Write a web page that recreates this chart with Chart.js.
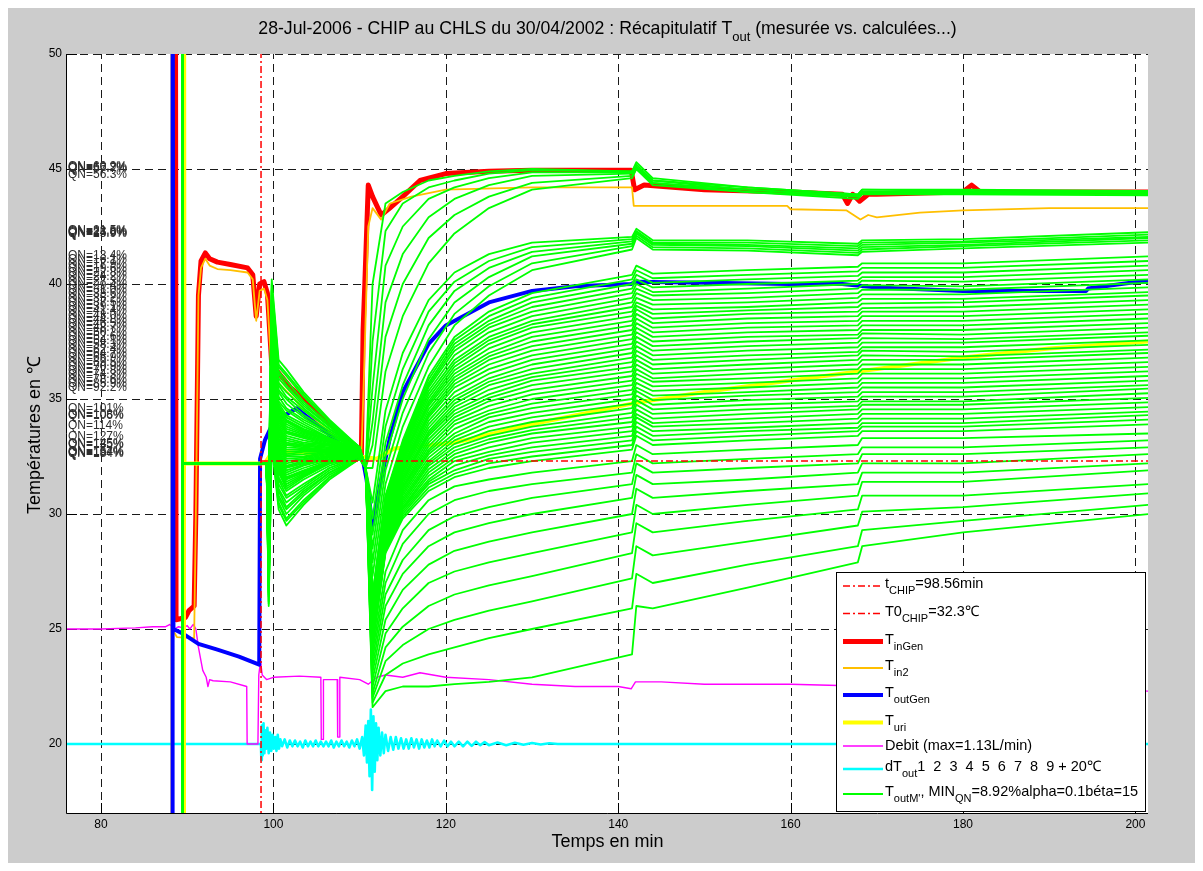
<!DOCTYPE html>
<html><head><meta charset="utf-8">
<script src="https://cdn.jsdelivr.net/npm/chart.js@4.4.0/dist/chart.umd.min.js"></script>
<style>html,body{margin:0;padding:0;background:#fff;overflow:hidden}canvas{display:block}</style>
</head><body>
<canvas id="c" width="1203" height="871"></canvas>
<script>
// ---------------- DATA ----------------
const xTicks = [80, 100, 120, 140, 160, 180, 200];
const yTicks = [20, 25, 30, 35, 40, 45, 50];
const xMin = 76.05, xMax = 201.46, yMin = 17, yMax = 50;

const tChip = 98.56;
const t0Chip = 32.3;

const tInGenX = [88.62, 88.7, 89.8, 90.2, 90.8, 91.0, 91.3, 91.6, 92.1, 92.6, 93.5, 95, 97.0, 97.6, 98.0, 98.4, 98.9, 99.3, 99.8, 102, 105, 108, 110.2, 110.4, 110.6, 111.0, 111.5, 112.5, 113.5, 115, 117, 120, 125, 130, 141.5, 141.9, 143, 150, 160, 166, 166.6, 167.2, 168, 169, 170, 180, 181, 182, 201.5];
const tInGenY = [60, 25.4, 25.5, 25.8, 26.0, 30, 39.5, 41.0, 41.35, 41.1, 40.95, 40.85, 40.7, 40.4, 38.6, 40.0, 40.1, 39.6, 36.5, 35.5, 34.5, 33.4, 32.6, 38, 40, 44.3, 43.8, 43.0, 43.3, 43.8, 44.5, 44.8, 44.9, 44.95, 44.95, 44.1, 44.3, 44.1, 44.0, 43.9, 43.5, 43.9, 43.6, 43.9, 43.9, 44.0, 44.3, 44.0, 44.0];

const tIn2X = [88.12, 88.17, 88.25, 88.8, 90.8, 91.0, 91.3, 91.6, 92.1, 92.6, 93.5, 95, 97.0, 97.6, 98.0, 98.4, 98.9, 99.3, 99.8, 105, 110.2, 110.5, 111.0, 111.5, 112.5, 113.5, 116, 120, 130, 141.6, 141.8, 150, 159.6, 160, 166.5, 168.1, 169, 170, 175, 180, 190, 201.5];
const tIn2Y = [10, 60, 25.0, 24.65, 24.6, 30, 39.5, 40.7, 41.1, 40.8, 40.65, 40.6, 40.5, 40.2, 38.4, 39.7, 39.8, 39.3, 36, 34, 32.6, 36, 42.5, 43.3, 42.8, 43.5, 43.8, 44.1, 44.2, 44.2, 43.4, 43.4, 43.4, 43.25, 43.2, 42.8, 43.0, 42.9, 43.1, 43.2, 43.3, 43.3];

const tOutGenX = [88.25, 88.3, 88.4, 89.5, 91.3, 93.5, 96, 98.35, 98.45, 99.0, 100.0, 102.7, 106, 109.7, 110.3, 110.8, 111.5, 112.5, 113.5, 115, 118, 120, 125, 130, 135, 141.5, 142, 150, 160, 166, 170, 180, 194.3, 194.5, 200.3, 201.5];
const tOutGenY = [10, 60, 25.0, 24.8, 24.35, 24.1, 23.8, 23.45, 32.4, 33.2, 34.0, 34.6, 33.6, 32.4, 32.5, 31.5, 29.5, 31.5, 33.3, 35.3, 37.4, 38.2, 39.2, 39.7, 39.9, 40.0, 40.1, 40.05, 40.0, 40.0, 39.85, 39.7, 39.7, 39.8, 40.1, 40.1];

const tUriX = [89.55, 89.62, 89.68, 99.0, 99.5, 101.5, 105, 110, 112, 114, 121, 130, 141.6, 150, 160, 170, 180, 190, 201.5];
const tUriY = [10, 60, 32.2, 32.2, 32.5, 32.7, 32.6, 32.5, 32.4, 32.85, 33.1, 33.9, 34.8, 35.3, 35.8, 36.3, 36.8, 37.2, 37.5];

const debitX = [76, 80, 84, 86, 87.5, 88, 88.5, 89, 89.5, 90, 90.3, 90.7, 91.0, 91.3, 91.8, 92.2, 92.4, 92.6, 93, 95, 96.9, 96.95, 98.2, 98.3, 98.5, 98.7, 99.2, 100, 103, 105.5, 105.55, 105.75, 105.8, 107.4, 107.45, 107.65, 107.7, 110, 111, 112, 113, 115, 117, 120, 125, 130, 135, 140, 141.5, 142, 145, 150, 160, 170, 180, 190, 201.5];
const debitY = [25.0, 25.0, 25.05, 25.1, 25.1, 25.2, 25.0, 25.1, 25.05, 25.15, 25.0, 25.2, 25.0, 24.2, 23.2, 22.9, 22.5, 22.8, 22.75, 22.7, 22.5, 20.0, 20.0, 23.0, 23.6, 23.0, 22.8, 22.9, 22.95, 22.9, 20.2, 20.2, 22.8, 22.8, 20.3, 20.3, 22.9, 22.8, 22.6, 22.9, 23.0, 22.9, 23.1, 22.9, 22.8, 22.6, 22.5, 22.5, 22.4, 22.7, 22.7, 22.6, 22.6, 22.5, 22.5, 22.4, 22.3];

const dToutX = [76, 98.55, 98.6, 98.65, 98.75, 98.85, 98.95, 99.05, 99.15, 99.3, 99.45, 99.6, 99.75, 99.9, 100.05, 100.2, 100.35, 100.5, 100.65, 100.8, 101.0, 101.3, 101.6, 101.9, 102.2, 102.5, 102.8, 103.1, 103.4, 103.7, 104.0, 104.3, 104.6, 104.9, 105.2, 105.5, 105.8, 106.1, 106.4, 106.7, 107.0, 107.3, 107.6, 107.9, 108.2, 108.5, 108.8, 109.1, 109.4, 109.7, 110.0, 110.3, 110.5, 110.7, 110.85, 111.0, 111.15, 111.3, 111.45, 111.6, 111.75, 111.9, 112.05, 112.2, 112.4, 112.6, 112.8, 113.0, 113.3, 113.6, 113.9, 114.2, 114.5, 114.8, 115.1, 115.4, 115.7, 116.0, 116.3, 116.6, 116.9, 117.2, 117.5, 117.8, 118.1, 118.4, 118.7, 119.0, 119.4, 119.8, 120.2, 120.6, 121.0, 121.5, 122.0, 122.5, 123.0, 123.5, 124.0, 124.5, 125.0, 126, 127, 128, 129, 130, 131, 132, 133, 201.5];
const dToutY = [20.0, 20.0, 19.3, 20.8, 19.5, 20.9, 19.6, 20.6, 19.8, 20.7, 19.6, 20.5, 19.7, 20.4, 19.8, 20.3, 19.7, 20.4, 19.8, 20.2, 19.9, 20.2, 19.85, 20.15, 19.9, 20.15, 19.9, 20.1, 19.85, 20.15, 19.9, 20.1, 19.9, 20.15, 19.9, 20.1, 19.9, 20.1, 19.9, 20.15, 19.85, 20.1, 19.9, 20.15, 19.9, 20.1, 19.85, 20.15, 19.9, 20.2, 19.8, 20.3, 19.5, 20.8, 19.2, 21.0, 18.6, 21.5, 18.0, 21.2, 18.8, 20.9, 19.3, 20.7, 19.5, 20.5, 19.6, 20.4, 19.7, 20.3, 19.75, 20.3, 19.8, 20.25, 19.8, 20.2, 19.8, 20.25, 19.85, 20.2, 19.8, 20.2, 19.85, 20.15, 19.85, 20.2, 19.9, 20.15, 19.9, 20.15, 19.9, 20.1, 19.9, 20.1, 19.9, 20.1, 19.92, 20.1, 19.95, 20.08, 19.95, 20.06, 19.95, 20.05, 19.97, 20.04, 19.98, 20.03, 20.0, 20.0];

// computed T_outM' curves (green): shared x positions
const greenPreX = [89.4, 89.45, 89.5, 99.2];
const greenPreY = [60, 10, 32.2, 32.2];
const greenEarlyX = [99.45, 99.8, 100.6, 101.5, 103.5, 106.5, 110.0];
const greenJoinX = 110.7, greenJoinY = 32.0;
const greenLateX = [111.5, 113, 115, 118, 121, 125, 130, 141.6, 142.1, 144, 155, 167.8, 168.3, 180, 201.5];

const greenEarly = [
[31.0,40.2,36.7,36.3,35.3,34.1,32.9],[30.9,40.0,36.5,36.1,35.2,34.0,32.9],[30.8,39.8,36.4,36.0,35.1,34.0,32.9],
[30.6,39.7,36.2,35.8,34.9,33.9,32.9],[30.5,39.5,36.1,35.6,34.8,33.8,32.9],[30.4,39.3,35.9,35.5,34.7,33.8,32.8],
[30.3,39.1,35.7,35.3,34.6,33.7,32.8],[30.1,39.0,35.6,35.1,34.5,33.7,32.8],[30.0,38.8,35.4,35.0,34.3,33.6,32.8],
[29.9,38.6,35.3,34.8,34.2,33.5,32.8],[29.8,38.4,35.1,34.6,34.1,33.5,32.8],[29.7,38.3,34.9,34.5,34.0,33.4,32.8],
[29.5,38.1,34.8,34.3,33.9,33.3,32.8],[29.4,37.9,34.6,34.1,33.7,33.3,32.7],[29.3,37.7,34.5,34.0,33.6,33.2,32.7],
[29.2,37.6,34.3,33.8,33.5,33.2,32.7],[29.0,37.4,34.2,33.6,33.4,33.1,32.7],[28.9,37.2,34.0,33.5,33.3,33.0,32.7],
[28.8,37.0,33.8,33.3,33.1,33.0,32.7],[28.7,36.9,33.7,33.1,33.0,32.9,32.7],[28.6,36.7,33.5,33.0,32.9,32.8,32.7],
[28.4,36.5,33.4,32.8,32.8,32.8,32.6],[28.3,36.3,33.2,32.6,32.7,32.7,32.6],[28.2,36.2,33.0,32.5,32.5,32.7,32.6],
[28.1,36.0,32.9,32.3,32.4,32.6,32.6],[27.9,35.8,32.7,32.1,32.3,32.5,32.6],[27.8,35.6,32.6,32.0,32.2,32.5,32.6],
[27.7,35.4,32.4,31.8,32.1,32.4,32.6],[27.6,35.3,32.2,31.6,31.9,32.3,32.6],[27.5,35.1,32.1,31.5,31.8,32.3,32.5],
[27.3,34.9,31.9,31.3,31.7,32.2,32.5],[27.2,34.7,31.8,31.1,31.6,32.2,32.5],[27.1,34.6,31.6,31.0,31.5,32.1,32.5],
[27.0,34.4,31.5,30.8,31.3,32.0,32.5],[26.9,34.2,31.3,30.7,31.2,32.0,32.5],[26.7,34.0,31.1,30.5,31.1,31.9,32.5],
[26.6,33.9,31.0,30.3,31.0,31.8,32.5],[26.5,33.7,30.8,30.2,30.9,31.8,32.4],[26.4,33.5,30.7,30.0,30.8,31.7,32.4],
[26.2,33.3,30.5,29.8,30.6,31.6,32.4],[26.1,33.2,30.4,29.7,30.5,31.6,32.4],[26.0,33.0,30.2,29.5,30.4,31.5,32.4],
// extra curves of the middle family
[29.45,38.0,34.7,34.2,33.8,33.3,32.75],[29.35,37.8,34.55,34.05,33.65,33.25,32.7],[29.25,37.65,34.4,33.9,33.55,33.2,32.7],
[29.1,37.5,34.25,33.7,33.45,33.15,32.7],[28.95,37.3,34.1,33.55,33.35,33.05,32.7],[28.85,37.1,33.9,33.4,33.2,33.0,32.7],
[28.75,36.95,33.75,33.2,33.05,32.95,32.7],[28.65,36.8,33.6,33.05,32.95,32.85,32.7],[28.5,36.6,33.45,32.9,32.85,32.8,32.65],
[28.35,36.4,33.3,32.7,32.75,32.75,32.6],[28.25,36.25,33.1,32.55,32.6,32.7,32.6],[28.15,36.1,32.95,32.4,32.45,32.65,32.6],
[28.0,35.9,32.8,32.2,32.35,32.55,32.6],[27.85,35.7,32.65,32.05,32.25,32.5,32.6],[27.75,35.5,32.5,31.9,32.15,32.45,32.6],
[27.65,35.35,32.3,31.7,32.0,32.35,32.6],[27.55,35.2,32.15,31.55,31.85,32.3,32.55],[27.4,35.0,32.0,31.4,31.75,32.25,32.5],
[27.25,34.8,31.85,31.2,31.65,32.2,32.5]
];

const greenLate = [
[40.0,43.5,44.0,44.5,44.7,44.9,45.0,44.9,45.3,44.6,44.2,43.9,44.1,44.1,44.05],
[37.5,42.3,43.5,44.2,44.5,44.8,44.95,44.9,45.2,44.5,44.2,43.9,44.1,44.05,44.0],
[35.5,40.8,42.5,43.7,44.2,44.6,44.85,44.85,45.1,44.5,44.1,43.85,44.0,44.0,44.0],
[34.0,39.2,41.3,42.9,43.7,44.3,44.7,44.8,45.1,44.4,44.1,43.8,44.0,44.0,43.95],
[33.0,37.7,40.0,42.0,43.0,43.8,44.4,44.7,45.0,44.4,44.0,43.8,43.95,43.95,43.9],
[32.0,36.2,38.6,40.9,42.2,43.3,44.1,44.6,45.0,44.3,44.0,43.7,43.9,43.9,43.85],
[30.5,34.5,37.0,39.3,40.5,41.3,41.8,42.05,42.4,41.9,41.9,41.75,41.9,41.95,42.25],
[29.8,33.8,36.3,38.8,40.1,41.0,41.6,41.95,42.3,41.8,41.8,41.65,41.8,41.85,42.15],
[29.1,33.1,35.6,38.2,39.7,40.7,41.4,41.85,42.25,41.75,41.7,41.55,41.7,41.8,42.05],
[28.5,32.5,35.0,37.6,39.2,40.3,41.2,41.75,42.2,41.7,41.65,41.45,41.6,41.7,42.0],
[27.9,31.9,34.4,37.0,38.7,39.9,40.9,41.65,42.1,41.6,41.55,41.35,41.5,41.65,41.9],
[27.3,31.3,33.8,36.4,38.2,39.5,40.6,41.5,42.0,41.5,41.45,41.25,41.4,41.55,41.8],
[26.5,30.8,33.2,36.0,37.7,38.8,39.6,40.4,40.8,40.45,40.6,40.75,40.9,40.9,41.2],
[26.4,30.7,33.0,35.7,37.4,38.4,39.2,40.0,40.4,40.05,40.2,40.35,40.5,40.5,40.8],
[26.3,30.5,32.8,35.5,37.1,38.1,38.8,39.6,40.0,39.65,39.8,40.0,40.15,40.1,40.4],
[26.2,30.4,32.7,35.2,36.7,37.7,38.4,39.2,39.6,39.3,39.4,39.6,39.75,39.75,40.05],
[26.0,30.3,32.5,34.9,36.4,37.4,38.1,38.8,39.2,38.9,39.0,39.2,39.35,39.35,39.65],
[25.9,30.1,32.3,34.7,36.1,37.0,37.7,38.4,38.9,38.5,38.7,38.8,38.95,39.0,39.3],
[25.8,30.0,32.1,34.4,35.8,36.7,37.3,38.0,38.5,38.1,38.3,38.4,38.6,38.6,38.9],
[25.7,29.9,31.9,34.2,35.5,36.3,36.9,37.6,38.1,37.7,37.9,38.0,38.2,38.2,38.5],
[25.6,29.7,31.8,33.9,35.1,35.9,36.5,37.2,37.7,37.3,37.5,37.65,37.85,37.8,38.1],
[25.5,29.6,31.6,33.6,34.8,35.6,36.1,36.8,37.3,36.9,37.1,37.25,37.45,37.45,37.75],
[25.3,29.5,31.4,33.4,34.5,35.2,35.8,36.4,36.9,36.5,36.7,36.9,37.1,37.05,37.35],
[25.2,29.3,31.2,33.1,34.2,34.9,35.4,36.0,36.5,36.1,36.3,36.5,36.7,36.7,37.0],
[25.1,29.2,31.1,32.8,33.9,34.5,35.0,35.6,36.1,35.75,35.9,36.1,36.3,36.3,36.6],
[25.0,29.1,30.9,32.6,33.5,34.2,34.6,35.2,35.7,35.35,35.5,35.7,35.9,35.9,36.2],
[24.9,28.9,30.7,32.3,33.2,33.8,34.2,34.8,35.35,34.95,35.15,35.3,35.5,35.5,35.8],
[24.8,28.8,30.5,32.1,32.9,33.4,33.8,34.4,34.95,34.55,34.75,34.9,35.1,35.1,35.45],
[24.6,28.7,30.3,31.8,32.6,33.1,33.5,34.0,34.55,34.15,34.35,34.55,34.75,34.75,35.05],
[24.5,28.5,30.2,31.5,32.3,32.7,33.1,33.6,34.2,33.8,33.95,34.15,34.35,34.35,34.65],
[24.4,28.4,30.0,31.3,31.9,32.4,32.7,33.2,33.8,33.4,33.6,33.75,33.95,33.95,34.3],
[24.3,28.3,29.8,31.0,31.6,32.0,32.3,32.8,33.4,33.0,33.2,33.4,33.6,33.6,33.9],
[24.0,27.5,29.3,30.6,31.2,31.5,31.8,32.3,33.0,32.6,32.8,33.0,33.3,33.3,33.5],
[23.7,27.0,28.7,30.0,30.6,31.0,31.3,31.8,32.6,32.2,32.4,32.6,32.9,32.9,33.2],
[23.4,26.5,28.0,29.3,29.9,30.3,30.7,31.3,32.2,31.8,32.0,32.2,32.6,32.6,32.9],
[23.1,26.0,27.4,28.6,29.2,29.6,30.0,30.7,31.7,31.3,31.5,31.8,32.2,32.2,32.6],
[22.8,25.4,26.7,27.8,28.4,28.8,29.2,30.0,31.1,30.7,31.0,31.3,31.8,31.8,32.2],
[22.5,24.8,25.9,27.0,27.5,27.9,28.3,29.2,30.4,30.0,30.4,30.8,31.4,31.4,31.9],
[22.2,24.2,25.1,26.0,26.5,26.9,27.3,28.3,29.6,29.2,29.7,30.2,30.8,30.8,31.3],
[22.0,23.6,24.3,25.0,25.4,25.8,26.2,27.2,28.6,28.2,28.8,29.5,30.1,30.3,30.9],
[21.8,23.0,23.5,23.9,24.2,24.6,25.0,25.9,27.4,27.0,27.8,28.6,29.3,29.7,30.4],
[21.6,22.3,22.5,22.5,22.6,22.7,22.9,23.9,26.0,25.9,26.8,27.9,28.6,29.2,30.0],
// extra curves of the middle family
[26.45,30.75,33.1,35.85,37.55,38.6,39.4,40.2,40.6,40.25,40.4,40.55,40.7,40.7,41.0],
[26.35,30.6,32.9,35.6,37.25,38.25,39.0,39.8,40.2,39.85,40.0,40.15,40.3,40.3,40.6],
[26.25,30.45,32.75,35.35,36.9,37.9,38.6,39.4,39.8,39.5,39.6,39.8,39.95,39.9,40.2],
[26.1,30.35,32.6,35.05,36.55,37.55,38.25,39.0,39.4,39.1,39.2,39.4,39.55,39.55,39.85],
[25.95,30.2,32.4,34.8,36.25,37.2,37.9,38.6,39.05,38.7,38.85,39.0,39.15,39.2,39.5],
[25.85,30.05,32.2,34.55,35.95,36.85,37.5,38.2,38.7,38.3,38.5,38.6,38.8,38.8,39.1],
[25.75,29.95,32.0,34.3,35.65,36.5,37.1,37.8,38.3,37.9,38.1,38.2,38.4,38.4,38.7],
[25.65,29.8,31.85,34.05,35.3,36.1,36.7,37.4,37.9,37.5,37.7,37.8,38.0,38.0,38.3],
[25.55,29.65,31.7,33.75,34.95,35.75,36.3,37.0,37.5,37.1,37.3,37.45,37.65,37.6,37.9],
[25.4,29.55,31.5,33.5,34.65,35.4,35.95,36.6,37.1,36.7,36.9,37.05,37.25,37.25,37.55],
[25.25,29.4,31.3,33.25,34.35,35.05,35.6,36.2,36.7,36.3,36.5,36.7,36.9,36.85,37.15],
[25.15,29.25,31.15,32.95,34.05,34.7,35.2,35.8,36.3,35.9,36.1,36.3,36.5,36.5,36.8],
[25.05,29.15,31.0,32.7,33.7,34.35,34.8,35.4,35.9,35.55,35.7,35.9,36.1,36.1,36.4],
[24.95,29.0,30.8,32.45,33.35,34.0,34.4,35.0,35.5,35.15,35.3,35.5,35.7,35.7,36.0],
[24.85,28.85,30.6,32.2,33.05,33.6,34.0,34.6,35.15,34.75,34.95,35.1,35.3,35.3,35.6],
[24.7,28.75,30.4,31.95,32.75,33.25,33.65,34.2,34.75,34.35,34.55,34.7,34.9,34.9,35.25],
[24.55,28.6,30.25,31.65,32.45,32.9,33.3,33.8,34.35,33.95,34.15,34.35,34.55,34.55,34.85],
[24.45,28.45,30.1,31.4,32.1,32.55,32.9,33.4,34.0,33.6,33.75,33.95,34.15,34.15,34.45],
[24.35,28.35,29.9,31.15,31.75,32.2,32.5,33.0,33.6,33.2,33.4,33.6,33.8,33.8,34.1]
];

// QN text labels at the left of the plot (value = vertical position in °C)
const qnText = ["QN=60.9%","QN=66.2%","QN=57.7%","QN=56.3%",
 "QN=21.5%","QN=23.8%","QN=24.6%","QN=25.9%",
 "QN=13.4%","QN=16.1%","QN=17.9%","QN=19.6%","QN=22.8%","QN=24.2%","QN=27.3%","QN=29.4%","QN=31.0%","QN=33.6%","QN=35.2%","QN=37.5%","QN=39.1%","QN=41.4%","QN=43.0%","QN=44.8%","QN=46.5%","QN=48.7%","QN=50.2%","QN=52.6%","QN=54.1%","QN=58.3%","QN=62.4%","QN=64.7%","QN=66.9%","QN=69.5%","QN=70.9%","QN=72.8%","QN=74.3%","QN=78.6%","QN=85.9%","QN=92.2%",
 "QN=101%","QN=108%","QN=106%","QN=114%","QN=127%","QN=145%","QN=135%","QN=154%","QN=167%","QN=184%"];
const qnVal = [45.09,45.05,45.02,44.75,
 42.3,42.27,42.24,42.2,
 41.23,41.04,40.86,40.67,40.49,40.30,40.12,39.93,39.75,39.56,39.38,39.19,39.00,38.82,38.63,38.45,38.26,38.08,37.89,37.71,37.52,37.34,37.15,36.97,36.78,36.59,36.41,36.22,36.04,35.85,35.67,35.48,
 34.6,34.33,34.28,33.85,33.38,33.05,33.0,32.72,32.66,32.62];

const titleParts = [["28-Jul-2006 - CHIP au CHLS du 30/04/2002 : Récapitulatif T",0],["out",1],[" (mesurée vs. calculées...)",0]];
const xTitle = "Temps en min";
const yTitle = "Températures en ℃";
const legendParts = [
 [["t",0],["CHIP",1],["=98.56min",0]],
 [["T0",0],["CHIP",1],["=32.3℃",0]],
 [["T",0],["inGen",1]],
 [["T",0],["in2",1]],
 [["T",0],["outGen",1]],
 [["T",0],["uri",1]],
 [["Debit (max=1.13L/min)",0]],
 [["dT",0],["out",1],["1  2  3  4  5  6  7  8  9 + 20℃",0]],
 [["T",0],["outM'",1],[", MIN",0],["QN",1],["=8.92%alpha=0.1béta=15",0]]
];

// ---------------- BUILD ----------------
const FONT = "'Liberation Sans', Arial, Helvetica, sans-serif";
const pts = (xs, ys) => xs.map((x, i) => ({x: x, y: ys[i]}));

const styles = {
  chip: {color:'#ff0000', width:1.5, dash:[7,3,2,3]},
  inGen: {color:'#ff0000', width:5, dash:[]},
  in2: {color:'#ffbf00', width:1.8, dash:[]},
  outGen: {color:'#0000ff', width:4, dash:[]},
  uri: {color:'#ffff00', width:4, dash:[]},
  debit: {color:'#ff00ff', width:1.4, dash:[]},
  dtout: {color:'#00ffff', width:2.6, dash:[]},
  green: {color:'#00ff00', width:1.8, dash:[]}
};
const legendStyles = [styles.chip, styles.chip, styles.inGen, styles.in2, styles.outGen, styles.uri, styles.debit, styles.dtout, styles.green];

function ds(data, st, order) {
  return {data: data, borderColor: st.color, borderWidth: st.width, borderDash: st.dash,
    pointRadius: 0, tension: 0, fill: false, order: order, borderJoinStyle: 'round', borderCapStyle: 'butt'};
}

const datasets = [];
datasets.push(ds([{x:tChip,y:yMin-5},{x:tChip,y:yMax+5}], styles.chip, 0));
datasets.push(ds([{x:tChip,y:t0Chip},{x:xMax+2,y:t0Chip}], styles.chip, 0));
greenLate.forEach((late, i) => {
  const early = greenEarly[i];
  const d = pts(greenPreX, greenPreY)
    .concat(pts(greenEarlyX, early))
    .concat([{x: greenJoinX, y: greenJoinY}])
    .concat(pts(greenLateX, late));
  datasets.push(ds(d, styles.green, 1));
});
datasets.push(ds(pts(tUriX, tUriY), styles.uri, 2));
datasets.push(ds(pts(tOutGenX, tOutGenY), styles.outGen, 3));
datasets.push(ds(pts(tIn2X, tIn2Y), styles.in2, 4));
datasets.push(ds(pts(tInGenX, tInGenY), styles.inGen, 5));
datasets.push(ds(pts(debitX, debitY), styles.debit, 6));
datasets.push(ds(pts(dToutX, dToutY), styles.dtout, 7));

function rich(ctx, parts, x, y, size, align) {
  const sub = Math.round(size * 0.74);
  let w = 0;
  parts.forEach(p => { ctx.font = (p[1] ? sub : size) + 'px ' + FONT; w += ctx.measureText(p[0]).width; });
  let cx = align === 'center' ? x - w / 2 : x;
  ctx.textAlign = 'left'; ctx.textBaseline = 'middle';
  parts.forEach(p => {
    ctx.font = (p[1] ? sub : size) + 'px ' + FONT;
    ctx.fillText(p[0], cx, p[1] ? y + size * 0.5 : y);
    cx += ctx.measureText(p[0]).width;
  });
  return w;
}

const decor = {
  id: 'decor',
  beforeDraw(chart) {
    const ctx = chart.ctx, a = chart.chartArea;
    ctx.save();
    ctx.fillStyle = '#ffffff'; ctx.fillRect(0, 0, chart.width, chart.height);
    ctx.fillStyle = '#cccccc'; ctx.fillRect(8, 8, chart.width - 16, chart.height - 16);
    ctx.fillStyle = '#ffffff'; ctx.fillRect(a.left, a.top, a.right - a.left, a.bottom - a.top);
    ctx.restore();
  },
  beforeDatasetsDraw(chart) {
    const ctx = chart.ctx, a = chart.chartArea, xs = chart.scales.x, ys = chart.scales.y;
    ctx.save();
    ctx.strokeStyle = '#1a1a1a'; ctx.lineWidth = 1; ctx.setLineDash([8, 5]);
    xTicks.forEach(v => { const p = Math.round(xs.getPixelForValue(v)) + 0.5; ctx.beginPath(); ctx.moveTo(p, a.bottom); ctx.lineTo(p, a.top); ctx.stroke(); });
    yTicks.forEach(v => { const p = Math.round(ys.getPixelForValue(v)) + 0.5; ctx.beginPath(); ctx.moveTo(a.left, p); ctx.lineTo(a.right, p); ctx.stroke(); });
    ctx.setLineDash([]);
    ctx.strokeStyle = '#000';
    xTicks.forEach(v => { const p = Math.round(xs.getPixelForValue(v)) + 0.5; ctx.beginPath(); ctx.moveTo(p, a.bottom); ctx.lineTo(p, a.bottom - 10); ctx.stroke(); });
    yTicks.forEach(v => { const p = Math.round(ys.getPixelForValue(v)) + 0.5; ctx.beginPath(); ctx.moveTo(a.left, p); ctx.lineTo(a.left + 10, p); ctx.stroke(); });
    ctx.restore();
  },
  afterDatasetsDraw(chart) {
    const ctx = chart.ctx, a = chart.chartArea, ys = chart.scales.y;
    ctx.save();
    ctx.strokeStyle = '#000'; ctx.lineWidth = 1;
    ctx.beginPath(); ctx.moveTo(a.left - 0.5, a.top); ctx.lineTo(a.left - 0.5, a.bottom + 0.5); ctx.lineTo(a.right, a.bottom + 0.5); ctx.stroke();
    // QN labels
    ctx.fillStyle = '#2e2e2e'; ctx.font = '12px ' + FONT; ctx.textAlign = 'left'; ctx.textBaseline = 'middle';
    qnText.forEach((t, i) => ctx.fillText(t, a.left + 1, ys.getPixelForValue(qnVal[i])));
    // title & axis titles
    ctx.fillStyle = '#000';
    rich(ctx, titleParts, (a.left + a.right) / 2, 29, 17.7, 'center');
    ctx.font = '18px ' + FONT; ctx.textAlign = 'center'; ctx.textBaseline = 'middle';
    ctx.fillText(xTitle, (a.left + a.right) / 2, 842);
    ctx.save(); ctx.translate(35, 435); ctx.rotate(-Math.PI / 2);
    ctx.fillText(yTitle, 0, 0); ctx.restore();
    // legend
    const lx = 836.5, ly = 572.5, lw = 309, lh = 239;
    ctx.fillStyle = '#fff'; ctx.fillRect(lx, ly, lw, lh);
    ctx.strokeStyle = '#000'; ctx.lineWidth = 1; ctx.strokeRect(lx, ly, lw, lh);
    const rowsY = [586, 613.5, 641.5, 668, 695, 722.5, 746, 769, 794];
    legendParts.forEach((parts, i) => {
      const st = legendStyles[i];
      const yl = rowsY[i];
      ctx.strokeStyle = st.color; ctx.lineWidth = st.width; ctx.setLineDash(st.dash);
      ctx.beginPath(); ctx.moveTo(843, yl); ctx.lineTo(883, yl); ctx.stroke();
      ctx.setLineDash([]);
      ctx.fillStyle = '#000';
      const hasSub = parts.some(p => p[1]);
      rich(ctx, parts, 885, hasSub ? yl - 2 : yl, 14.5, 'left');
    });
    ctx.restore();
  }
};

new Chart(document.getElementById('c'), {
  type: 'line',
  data: {datasets: datasets},
  options: {
    responsive: false, animation: false, devicePixelRatio: 1, parsing: true,
    layout: {padding: {left: 0, right: 55, top: 54, bottom: 0}},
    plugins: {legend: {display: false}, tooltip: {enabled: false}, title: {display: false}},
    elements: {point: {radius: 0}},
    scales: {
      x: {type: 'linear', min: xMin, max: xMax,
        afterFit(s) { s.height = 58; },
        afterBuildTicks(s) { s.ticks = xTicks.map(v => ({value: v})); },
        grid: {display: false, drawTicks: false}, border: {display: false},
        ticks: {font: {size: 12, family: FONT}, color: '#000', padding: 4, maxRotation: 0, autoSkip: false}},
      y: {type: 'linear', min: yMin, max: yMax,
        afterFit(s) { s.width = 67; },
        afterBuildTicks(s) { s.ticks = yTicks.map(v => ({value: v})); },
        grid: {display: false, drawTicks: false}, border: {display: false},
        ticks: {font: {size: 12, family: FONT}, color: '#000', padding: 5, autoSkip: false}}
    }
  },
  plugins: [decor]
});
</script>
</body></html>
